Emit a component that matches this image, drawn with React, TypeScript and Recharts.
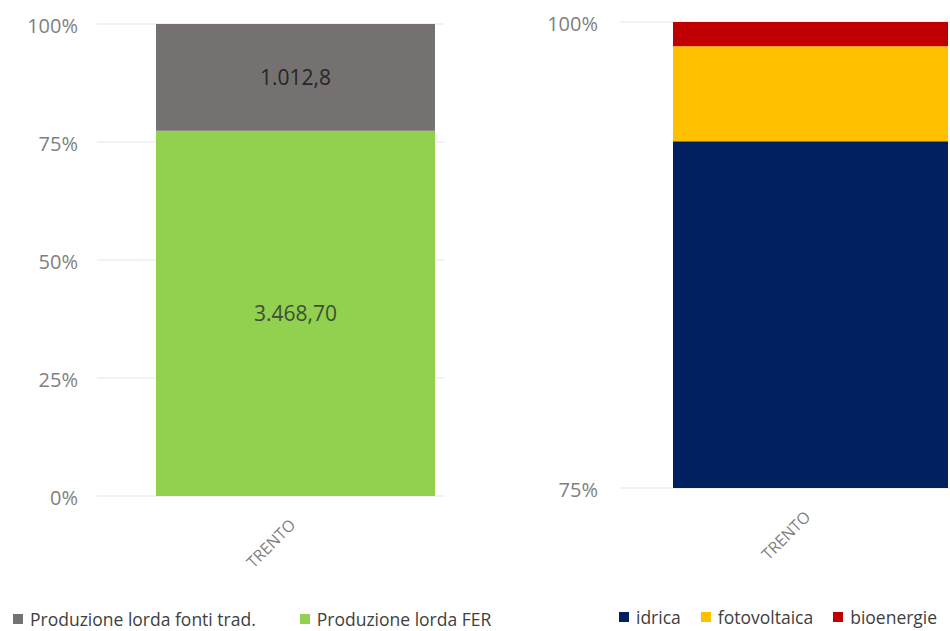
import { BarChart, Bar, XAxis, YAxis, CartesianGrid, Legend, LabelList } from 'recharts';

// Categories and series
const categories = ['TRENTO'];

// Left chart: gross production (GWh)
const produzioneFer = [3468.7];
const produzioneTrad = [1012.8];
const ferLabels = ['3.468,70'];
const tradLabels = ['1.012,8'];
const leftTicks = [0, 0.25, 0.5, 0.75, 1];
const leftLegendOrder = ['Produzione lorda fonti trad.', 'Produzione lorda FER'];

// Right chart: renewable shares (%)
const idrica = [93.6];
const fotovoltaica = [5.1];
const bioenergie = [1.3];
const rightTicks = [75, 100];
const rightLegendOrder = ['idrica', 'fotovoltaica', 'bioenergie'];

const leftData = categories.map((name, i) => ({
    name,
    fer: produzioneFer[i],
    trad: produzioneTrad[i],
}));

const rightData = categories.map((name, i) => ({
    name,
    idrica: idrica[i],
    fotovoltaica: fotovoltaica[i],
    bioenergie: bioenergie[i],
}));

const FONT = '"Open Sans", sans-serif';

const RotatedTick = ({ x, y, payload }: any) => (
    <g transform={`translate(${x + 1},${y + 30})`}>
        <text
            textAnchor="end"
            transform="rotate(-45)"
            fill="#7f7f7f"
            fontSize={16}
            fontFamily={FONT}
        >
            {payload.value}
        </text>
    </g>
);

const centerLabel = (labels: string[], color: string) => (props: any) => {
    const { x, y, width, height, index } = props;
    return (
        <text
            x={x + width / 2}
            y={y + height / 2}
            textAnchor="middle"
            dominantBaseline="central"
            fill={color}
            fontSize={21}
            fontFamily={FONT}
        >
            {labels[index]}
        </text>
    );
};

const LegendRow = ({ payload, order, gap }: any) => {
    const items = order
        .map((name: string) => (payload || []).find((p: any) => p.value === name))
        .filter(Boolean);
    return (
        <div style={{ display: 'flex', gap, height: 18, alignItems: 'center', whiteSpace: 'nowrap' }}>
            {items.map((item: any) => (
                <div key={item.value} style={{ display: 'flex', alignItems: 'center', height: 18 }}>
                    <span style={{ width: 10, height: 10, background: item.color, marginRight: 7 }} />
                    <span style={{ fontSize: 17.5, lineHeight: '18px', color: '#404040', fontFamily: FONT }}>
                        {item.value}
                    </span>
                </div>
            ))}
        </div>
    );
};

const yTick = { fill: '#7f7f7f', fontSize: 20, fontFamily: FONT, dy: 2 };

export default function App() {
    return (
        <div
            style={{
                position: 'absolute',
                left: 0,
                top: 0,
                width: 950,
                height: 631,
                overflow: 'hidden',
                background: '#fff',
                display: 'flex',
            }}
        >
            {/* Left: FER vs traditional, 100% stacked */}
            <BarChart
                width={530}
                height={631}
                data={leftData}
                stackOffset="expand"
                margin={{ top: 24, right: 85, left: 0, bottom: 3 }}
            >
                <CartesianGrid vertical={false} stroke="#e6e6e6" />
                <XAxis
                    dataKey="name"
                    axisLine={false}
                    tickLine={false}
                    tickSize={0}
                    tickMargin={0}
                    height={114}
                    padding={{ left: 49, right: 0 }}
                    tick={<RotatedTick />}
                />
                <YAxis
                    width={97}
                    domain={[0, 1]}
                    ticks={leftTicks}
                    axisLine={false}
                    tickLine={false}
                    tickSize={0}
                    tickMargin={19}
                    tick={yTick}
                    tickFormatter={(v) => `${Math.round(v * 100)}%`}
                />
                <Legend
                    verticalAlign="bottom"
                    align="left"
                    wrapperStyle={{ left: 13 }}
                    content={(props) => <LegendRow {...props} order={leftLegendOrder} gap={44} />}
                />
                <Bar dataKey="fer" name="Produzione lorda FER" stackId="a" fill="#92d050" barSize={279} isAnimationActive={false}>
                    <LabelList dataKey="fer" content={centerLabel(ferLabels, '#3f4f35')} />
                </Bar>
                <Bar dataKey="trad" name="Produzione lorda fonti trad." stackId="a" fill="#767171" barSize={279} isAnimationActive={false}>
                    <LabelList dataKey="trad" content={centerLabel(tradLabels, '#262626')} />
                </Bar>
            </BarChart>

            {/* Right: renewable sources, zoomed 75-100% */}
            <BarChart
                width={420}
                height={631}
                data={rightData}
                margin={{ top: 22, right: 0, left: 0, bottom: 5 }}
            >
                <CartesianGrid vertical={false} stroke="#e6e6e6" />
                <XAxis
                    dataKey="name"
                    axisLine={false}
                    tickLine={false}
                    tickSize={0}
                    tickMargin={0}
                    height={120}
                    padding={{ left: 51, right: 0 }}
                    tick={<RotatedTick />}
                />
                <YAxis
                    width={90}
                    domain={[75, 100]}
                    allowDataOverflow
                    ticks={rightTicks}
                    axisLine={false}
                    tickLine={false}
                    tickSize={0}
                    tickMargin={22}
                    tick={yTick}
                    tickFormatter={(v) => `${v}%`}
                />
                <Legend
                    verticalAlign="bottom"
                    align="left"
                    wrapperStyle={{ left: 89 }}
                    content={(props) => <LegendRow {...props} order={rightLegendOrder} gap={20} />}
                />
                <Bar dataKey="idrica" name="idrica" stackId="b" fill="#002060" barSize={275} isAnimationActive={false} />
                <Bar dataKey="fotovoltaica" name="fotovoltaica" stackId="b" fill="#ffc000" barSize={275} isAnimationActive={false} />
                <Bar dataKey="bioenergie" name="bioenergie" stackId="b" fill="#c00000" barSize={275} isAnimationActive={false} />
            </BarChart>
        </div>
    );
}
